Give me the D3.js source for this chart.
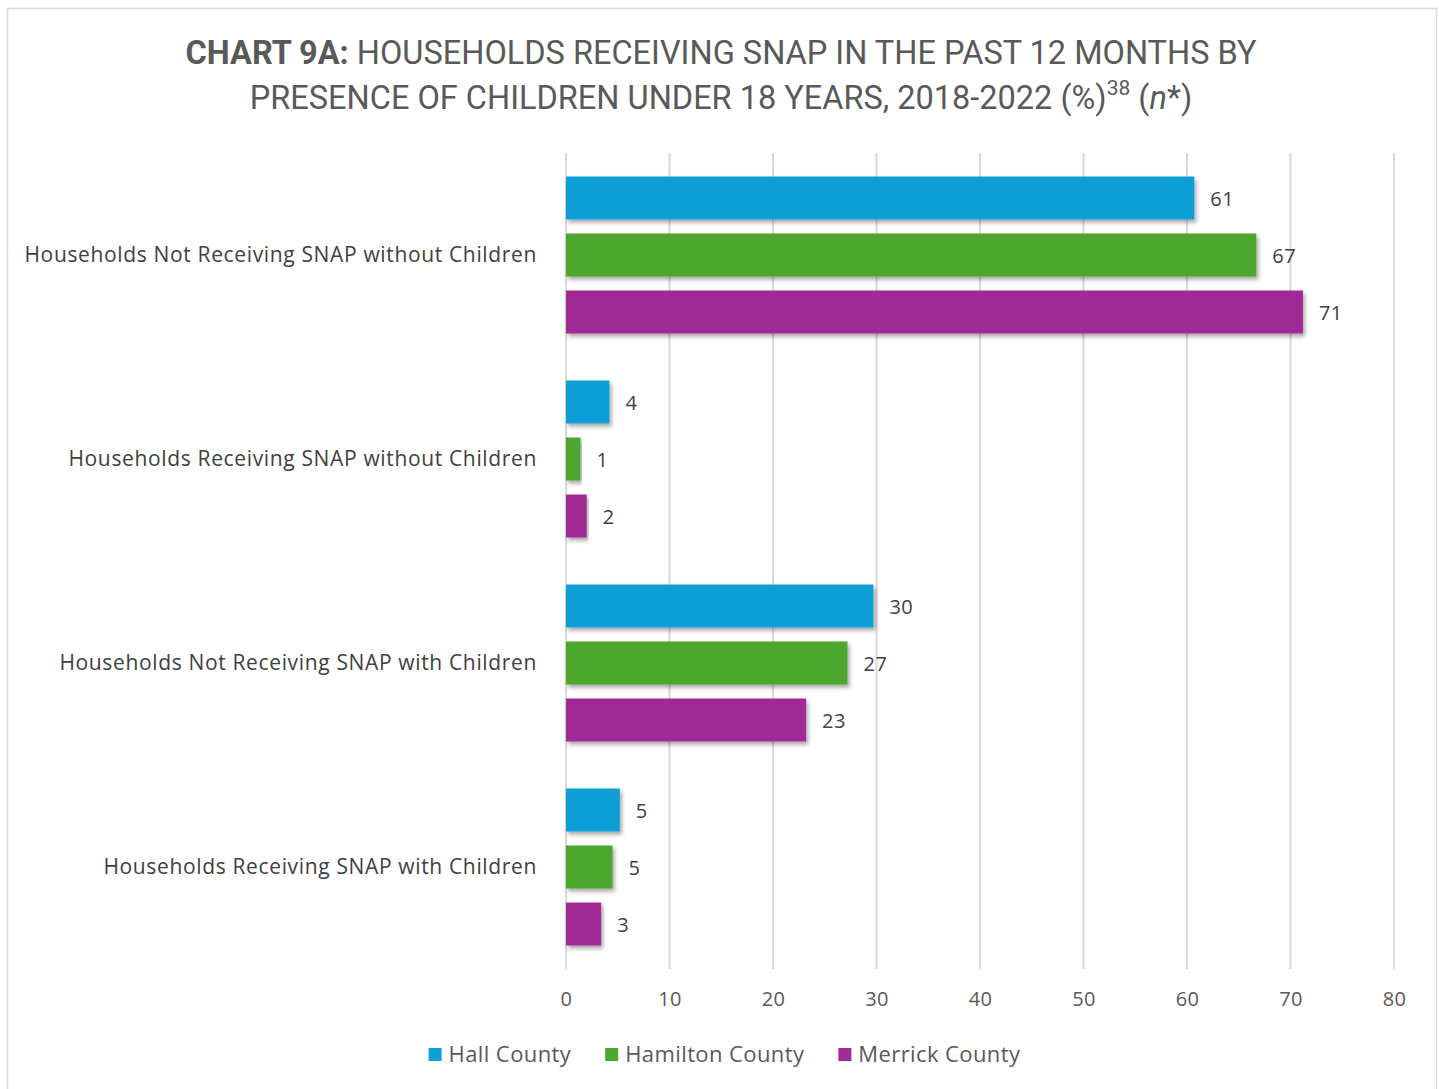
<!DOCTYPE html>
<html>
<head>
<meta charset="utf-8">
<script src="https://cdn.jsdelivr.net/npm/d3@7"></script>
<style>
  body { margin: 0; background: #fff; }
  svg { display: block; }
</style>
</head>
<body>
<script>
// data
var categories = [
  "Households Not Receiving SNAP without Children",
  "Households Receiving SNAP without Children",
  "Households Not Receiving SNAP with Children",
  "Households Receiving SNAP with Children"
];
var seriesNames = ["Hall County", "Hamilton County", "Merrick County"];
var hallValues = [60.7, 4.2, 29.7, 5.2];
var hamiltonValues = [66.7, 1.4, 27.2, 4.5];
var merrickValues = [71.2, 2.0, 23.2, 3.4];
var hallLabels = [61, 4, 30, 5];
var hamiltonLabels = [67, 1, 27, 5];
var merrickLabels = [71, 2, 23, 3];
var xTicks = [0, 10, 20, 30, 40, 50, 60, 70, 80];
var colors = ["#0f9ed5", "#4ea72e", "#a02b93"];

var seriesValues = [hallValues, hamiltonValues, merrickValues];
var seriesLabels = [hallLabels, hamiltonLabels, merrickLabels];

var width = 1439,
    height = 1089,
    plotLeft = 566,
    plotRight = 1394,
    plotTop = 153,
    plotBottom = 969,
    font = "'Open Sans', 'Noto Sans', sans-serif",
    textColor = "#404040";

var svg = d3.select("body").append("svg")
    .attr("width", width)
    .attr("height", height);

// chart border
svg.append("rect")
    .attr("x", 7.5).attr("y", 8.5)
    .attr("width", 1429).attr("height", 1100)
    .attr("fill", "#fff")
    .attr("stroke", "#d9d9d9")
    .attr("stroke-width", 1.5);

var defs = svg.append("defs");
var shadow = defs.append("filter").attr("id", "shadow")
    .attr("x", "-5%").attr("y", "-20%").attr("width", "115%").attr("height", "160%");
shadow.append("feDropShadow")
    .attr("dx", 2).attr("dy", 3).attr("stdDeviation", 2)
    .attr("flood-color", "#000").attr("flood-opacity", 0.35);

// title
var title = svg.append("text")
    .attr("text-anchor", "middle")
    .attr("fill", "#595959")
    .style("font-family", "'Liberation Sans Narrow', 'Roboto', sans-serif")
    .style("font-size", "32.5px");
var line1 = title.append("tspan").attr("x", 721).attr("y", 64);
line1.append("tspan").attr("font-weight", "bold").text("CHART 9A:");
line1.append("tspan").text(" HOUSEHOLDS RECEIVING SNAP IN THE PAST 12 MONTHS BY");
var line2 = title.append("tspan").attr("x", 721).attr("y", 109);
line2.append("tspan").text("PRESENCE OF CHILDREN UNDER 18 YEARS, 2018-2022 (%)");
line2.append("tspan").attr("dy", -14).style("font-size", "21px").text("38");
line2.append("tspan").attr("dy", 14).text(" (");
line2.append("tspan").attr("font-style", "italic").text("n");
line2.append("tspan").text("*)");

// scales
var x = d3.scaleLinear().domain([0, 80]).range([plotLeft, plotRight]);
var y0 = d3.scaleBand().domain(categories).range([plotTop, plotBottom]);
var y1 = d3.scaleBand().domain(seriesNames).range([0, y0.bandwidth()])
    .paddingInner(0.2456).paddingOuter(0.412);

// gridlines
svg.append("g").selectAll("line")
    .data(xTicks)
    .join("line")
    .attr("x1", d => x(d)).attr("x2", d => x(d))
    .attr("y1", plotTop).attr("y2", plotBottom)
    .attr("stroke", "#d9d9d9")
    .attr("stroke-width", 2);

// x axis labels
var xAxis = svg.append("g")
    .attr("transform", "translate(0," + (plotBottom + 9) + ")")
    .call(d3.axisBottom(x).tickValues(xTicks).tickSize(0).tickPadding(14));
xAxis.select(".domain").remove();
xAxis.selectAll("text")
    .attr("fill", "#595959")
    .style("font-family", font)
    .style("font-size", "20px")
    .style("letter-spacing", "0.4px");

// bars
var groups = svg.append("g").selectAll("g")
    .data(categories)
    .join("g")
    .attr("transform", d => "translate(0," + y0(d) + ")");

seriesNames.forEach(function(s, si) {
  groups.append("rect")
      .attr("x", x(0))
      .attr("y", y1(s))
      .attr("width", (d, i) => x(seriesValues[si][i]) - x(0))
      .attr("height", y1.bandwidth())
      .attr("fill", colors[si])
      .attr("filter", "url(#shadow)");
  groups.append("text")
      .attr("x", (d, i) => x(seriesValues[si][i]) + 16)
      .attr("y", y1(s) + y1.bandwidth() / 2 + 1)
      .attr("dy", "0.35em")
      .attr("fill", textColor)
      .style("font-family", font)
      .style("font-size", "20px")
      .style("letter-spacing", "0.5px")
      .text((d, i) => seriesLabels[si][i]);
});

// category labels
groups.append("text")
    .attr("x", plotLeft - 29)
    .attr("y", y0.bandwidth() / 2)
    .attr("dy", "0.35em")
    .attr("text-anchor", "end")
    .attr("fill", textColor)
    .style("font-family", font)
    .style("font-size", "21px")
    .style("letter-spacing", "0.65px")
    .text(d => d);

// legend
var legend = svg.append("g");
var lx = 0;
seriesNames.forEach(function(s, i) {
  var g = legend.append("g");
  g.append("rect")
      .attr("x", 0).attr("y", -6)
      .attr("width", 13).attr("height", 13)
      .attr("fill", colors[i]);
  var t = g.append("text")
      .attr("x", 20).attr("y", 0)
      .attr("dy", "0.35em")
      .attr("fill", "#595959")
      .style("font-family", font)
      .style("font-size", "22px")
      .style("letter-spacing", "0.4px")
      .text(s);
  g.attr("transform", "translate(" + lx + ",0)");
  lx += 20 + t.node().getComputedTextLength() + 34;
});
lx -= 34;
legend.attr("transform", "translate(" + (width / 2 - lx / 2 + 5) + ",1054)");
</script>
</body>
</html>
